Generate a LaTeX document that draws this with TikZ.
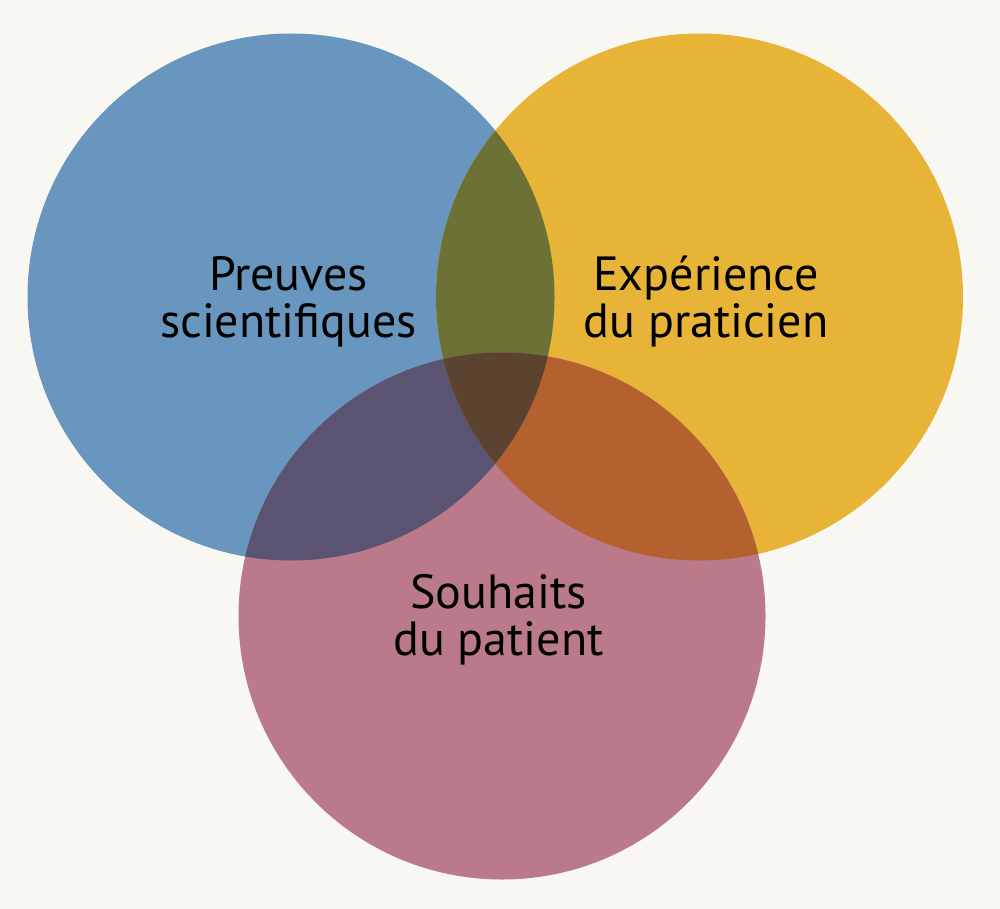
\documentclass[tikz,border=0pt]{standalone}
\usepackage{fontspec}
\setmainfont{PT Sans}
\definecolor{bg}{HTML}{F8F7F2}
\definecolor{cblue}{HTML}{6896BE}
\definecolor{cyellow}{HTML}{E7B437}
\definecolor{cpink}{HTML}{BA7A89}
\definecolor{cby}{HTML}{6C7136}
\definecolor{cbp}{HTML}{5A5372}
\definecolor{cyp}{HTML}{B5612F}
\definecolor{call}{HTML}{5C4330}
\tikzset{
  lbl/.style={align=center, font=\fontsize{48}{47}\selectfont, text=black, inner sep=0pt, anchor=base}
}
\begin{document}
\begin{tikzpicture}[x=1pt,y=-1pt]
\fill[bg] (0,0) rectangle (1000,909);
\useasboundingbox (0,0) rectangle (1000,909);
\def\R{263.5}
\coordinate (B) at (291,297);
\coordinate (Y) at (699.5,297);
\coordinate (P) at (502,616);
\fill[cblue] (B) circle[radius=\R];
\fill[cyellow] (Y) circle[radius=\R];
\fill[cpink] (P) circle[radius=\R];
\begin{scope}
  \clip (B) circle[radius=\R];
  \fill[cby] (Y) circle[radius=\R];
  \fill[cbp] (P) circle[radius=\R];
\end{scope}
\begin{scope}
  \clip (Y) circle[radius=\R];
  \fill[cyp] (P) circle[radius=\R];
\end{scope}
\begin{scope}
  \clip (B) circle[radius=\R];
  \clip (Y) circle[radius=\R];
  \fill[call] (P) circle[radius=\R];
\end{scope}
\node[lbl] (lb) at (288.5,337) {Preuves\\scientifiques};
\node[lbl] (ly) at (706,337) {Expérience\\du praticien};
\node[lbl] (lp) at (498.5,655) {Souhaits\\du patient};
\end{tikzpicture}
\end{document}
